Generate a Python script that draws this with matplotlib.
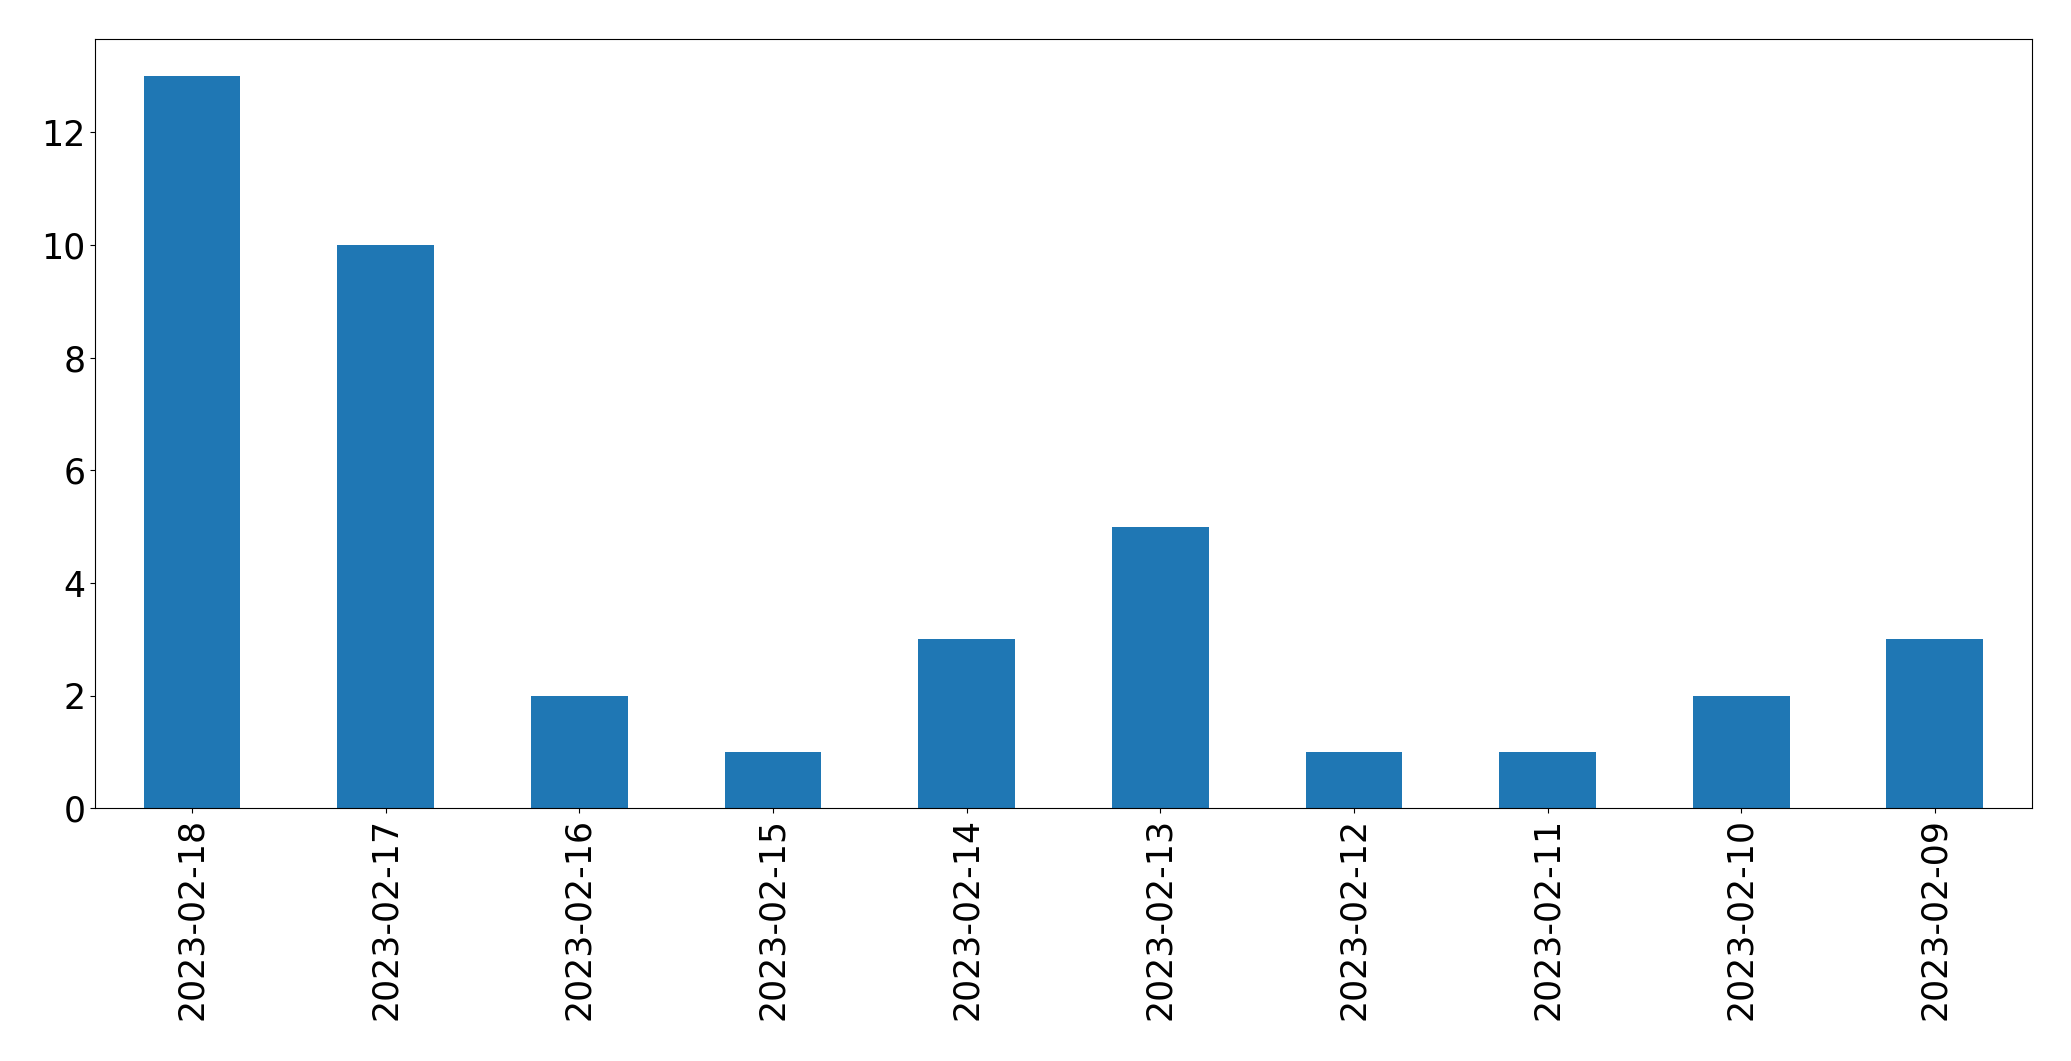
import matplotlib
matplotlib.use("Agg")
import matplotlib.pyplot as plt

dates = ["2023-02-18", "2023-02-17", "2023-02-16", "2023-02-15", "2023-02-14",
         "2023-02-13", "2023-02-12", "2023-02-11", "2023-02-10", "2023-02-09"]
counts = [13, 10, 2, 1, 3, 5, 1, 1, 2, 3]

fig = plt.figure(figsize=(20.71, 10.61), dpi=100)
ax = fig.add_axes([0.046, 0.238, 0.935, 0.725])
x = range(len(dates))
ax.bar(x, counts, width=0.5, color="#1f77b4")
ax.set_xticks(list(x))
ax.set_xticklabels(dates, rotation=90)
ax.set_xlim(-0.5, len(dates) - 0.5)
ax.set_ylim(0, 13.65)
ax.tick_params(labelsize=25)
fig.savefig("out.png", dpi=100)
